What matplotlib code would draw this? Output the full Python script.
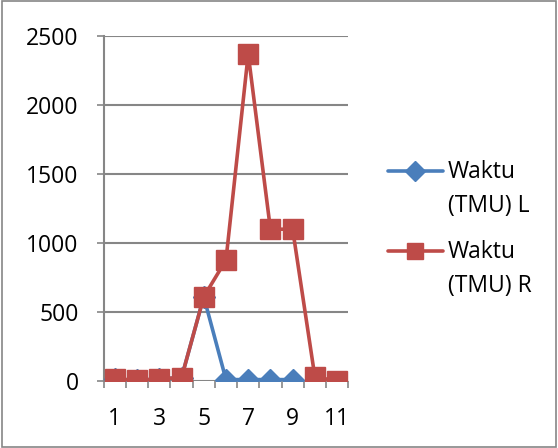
import numpy as np
import matplotlib.pyplot as plt
from matplotlib.patches import Rectangle
from matplotlib.lines import Line2D

categories = list(range(1, 12))
waktu_L = [15, 5, 15, 25, 610, 10, 10, 10, 10, np.nan, np.nan]
waktu_R = [15, 5, 15, 25, 610, 877, 2370, 1100, 1100, 30, 0]
y_ticks = [0, 500, 1000, 1500, 2000, 2500]
x_labels = ["1", "", "3", "", "5", "", "7", "", "9", "", "11"]
series_names = [["Waktu", "(TMU) L"], ["Waktu", "(TMU) R"]]

plt.rcParams['font.family'] = ['Open Sans', 'DejaVu Sans']
FS = 16.5
BLUE, RED, GREY = "#4A7EBB", "#BE4B48", "#868686"

fig = plt.figure(figsize=(5.58, 4.48), dpi=100)
ax = fig.add_axes([0.186, 0.1496, 0.438, 0.77])

x = np.arange(len(categories))
ax.plot(x, waktu_L, color=BLUE, lw=2.6, marker="D", ms=11, zorder=3)
ax.plot(x, waktu_R, color=RED, lw=2.6, marker="s", ms=14, zorder=4)

ax.set_xlim(-0.5, len(categories) - 0.5)
ax.set_ylim(0, 2500)
ax.set_yticks(y_ticks)
ax.set_xticks(x)
ax.set_xticklabels(x_labels)
ax.set_xticks(np.arange(-0.5, len(categories)), minor=True)
ax.tick_params(axis="x", which="major", length=0, pad=19, labelsize=FS)
ax.tick_params(axis="x", which="minor", length=5, color=GREY, width=1.2)
ax.tick_params(axis="y", length=5, color=GREY, width=1.2, labelsize=FS, pad=13)
ax.yaxis.grid(True, color=GREY, lw=1.5)
ax.set_axisbelow(True)
for s in ["top", "right", "bottom"]:
    ax.spines[s].set_visible(False)
ax.spines["left"].set_color(GREY)
ax.spines["left"].set_linewidth(1.5)

# legend, Excel style: handle aligned with the first text line
legend_rows = [(BLUE, "D", 10, 0.6183, 0.6027, 0.5268),
               (RED, "s", 12, 0.4397, 0.4241, 0.3482)]
for (col, mk, ms, yh, y1, y2), name in zip(legend_rows, series_names):
    fig.add_artist(Line2D([0.6953, 0.7939], [yh, yh], color=col, lw=2.6,
                          solid_capstyle="round", transform=fig.transFigure))
    fig.add_artist(Line2D([0.7446], [yh], color=col, marker=mk, ms=ms,
                          transform=fig.transFigure))
    fig.text(0.8029, y1, name[0], fontsize=FS, va="baseline")
    fig.text(0.8029, y2, name[1], fontsize=FS, va="baseline")

fig.patches.append(Rectangle((0.003, 0.003), 0.994, 0.994, transform=fig.transFigure,
                             fill=False, edgecolor=GREY, lw=1.2))

fig.savefig("out.png", dpi=100)
